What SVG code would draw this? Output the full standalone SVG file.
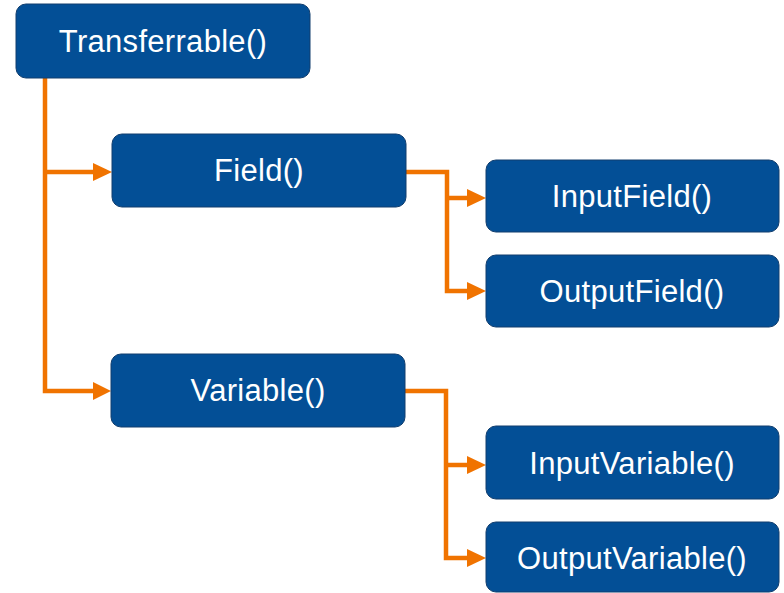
<svg xmlns="http://www.w3.org/2000/svg" width="784" height="593" viewBox="0 0 784 593">
<defs>
<style>
.box{fill:#034f96;stroke:#123e6e;stroke-width:1}
.lbl{fill:#fff;font-family:"Liberation Sans",Arial,sans-serif;font-size:31px;letter-spacing:0.3px;text-anchor:middle}
.conn{fill:none;stroke:#f07300;stroke-width:4.5;stroke-linejoin:miter}
.head{fill:#f07300}
</style>
</defs>
<rect width="784" height="593" fill="#fff"/>
<g id="connectors">
<path class="conn" d="M45 78 V391 H95"/>
<path class="conn" d="M45 172 H95"/>
<polygon class="head" points="93,163 112,172 93,181"/>
<polygon class="head" points="93,382 111,391 93,400"/>
<path class="conn" d="M406 172 H447 V291 H470"/>
<path class="conn" d="M447 198 H470"/>
<polygon class="head" points="467,189 486,198 467,207"/>
<polygon class="head" points="467,282 486,291 467,300"/>
<path class="conn" d="M405 391 H446 V558 H470"/>
<path class="conn" d="M446 465 H470"/>
<polygon class="head" points="467,456 486,465 467,474"/>
<polygon class="head" points="467,549 486,558 467,567"/>
</g>
<g id="transferrable">
<rect class="box" x="16" y="4" width="294" height="74" rx="10"/>
<text class="lbl" x="163" y="52">Transferrable()</text>
</g>
<g id="field">
<rect class="box" x="112" y="134" width="294" height="73" rx="10"/>
<text class="lbl" x="259" y="181">Field()</text>
</g>
<g id="inputfield">
<rect class="box" x="486" y="160" width="293" height="72" rx="10"/>
<text class="lbl" x="632" y="207">InputField()</text>
</g>
<g id="outputfield">
<rect class="box" x="486" y="255" width="293" height="72" rx="10"/>
<text class="lbl" x="632" y="302">OutputField()</text>
</g>
<g id="variable">
<rect class="box" x="111" y="354" width="294" height="73" rx="10"/>
<text class="lbl" x="258" y="401">Variable()</text>
</g>
<g id="inputvariable">
<rect class="box" x="486" y="426" width="293" height="73" rx="10"/>
<text class="lbl" x="632" y="474">InputVariable()</text>
</g>
<g id="outputvariable">
<rect class="box" x="486" y="522" width="293" height="70" rx="10"/>
<text class="lbl" x="632" y="569">OutputVariable()</text>
</g>
</svg>
